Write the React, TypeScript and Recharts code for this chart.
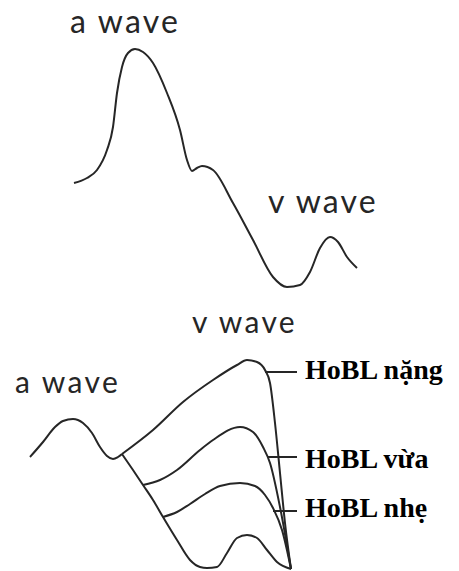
import { LineChart, Line, XAxis, YAxis, ReferenceDot } from "recharts";

const INK = "#262626";
const W = 459;
const TOP_H = 300;
const BOTTOM_H = 271;

// normal jugular venous pulse: a wave, x descent, v wave
const topTime = [74, 87, 97, 107, 113, 117, 122, 128, 135, 143, 153, 167, 180, 187, 192, 197, 202, 213, 233, 253, 273, 287, 300, 310, 320, 330, 338, 347, 357];
const topPressure = [117, 122, 130, 150, 173, 207, 233, 247, 251, 248, 237, 207, 170, 140, 129, 132, 134, 130, 97, 60, 23, 13, 15, 28, 52, 63, 58, 43, 32];

// tricuspid regurgitation: shared a wave, then one v wave per grade
const aWaveTime = [30, 43, 55, 63, 73, 83, 92, 100, 107, 113, 118, 122];
const aWavePressure = [114, 129, 144, 150, 152, 148, 138, 124, 115, 112, 114, 117];

const normalTime = [122, 133, 143, 153, 163, 177, 190, 200, 207, 217, 227, 237, 247, 257, 267, 277, 291];
const normalPressure = [117, 101, 86, 71, 54, 31, 11, 4, 3, 4, 18, 33, 36, 33, 21, 9, 2];

const severeTime = [122, 153, 183, 213, 237, 247, 257, 265, 270, 275, 280, 285, 291];
const severePressure = [117, 141, 169, 191, 206, 211, 209, 201, 188, 148, 98, 48, 2];

const moderateTime = [143, 160, 177, 200, 213, 240, 253, 263, 270, 280, 291];
const moderatePressure = [86, 91, 101, 121, 131, 144, 139, 124, 108, 64, 2];

const mildTime = [163, 177, 190, 205, 220, 240, 255, 265, 273, 282, 291];
const mildPressure = [54, 59, 67, 77, 85, 88, 85, 76, 63, 41, 2];

const gradeLabels = ["HoBL nặng", "HoBL vừa", "HoBL nhẹ"];
const leaderStart = [265, 268, 273];
const leaderEnd = 297;
const leaderLevel = [199, 114, 60];
const gradeLabelX = 305;
const gradeLabelBaseline = [192, 103, 54];

const toPoints = (xs: number[], ys: number[]) => xs.map((x, i) => ({ x, y: ys[i] }));

type TagStyle = {
  fontFamily: string;
  fontSize: number;
  fontWeight?: number;
  letterSpacing?: number;
  fill: string;
};

const waveFontTop: TagStyle = { fontFamily: "Lato, 'Open Sans', sans-serif", fontSize: 32, letterSpacing: 2.2, fill: INK };
const waveFontBottom: TagStyle = { fontFamily: "Lato, 'Open Sans', sans-serif", fontSize: 30, letterSpacing: 2.4, fill: INK };
const gradeFont: TagStyle = { fontFamily: "'Liberation Serif', 'Times New Roman', serif", fontSize: 28, fontWeight: 700, fill: "#000" };

// label content: text starts at the reference point, sitting on its baseline
function tag(text: string, style: TagStyle) {
  return (props: any) => {
    const vb = props.viewBox || {};
    const x = (vb.x ?? 0) + (vb.width ?? 0) / 2;
    const y = (vb.y ?? 0) + (vb.height ?? 0) / 2;
    return (
      <text
        x={x}
        y={y}
        textAnchor="start"
        fontFamily={style.fontFamily}
        fontSize={style.fontSize}
        fontWeight={style.fontWeight}
        letterSpacing={style.letterSpacing}
        fill={style.fill}
      >
        {text}
      </text>
    );
  };
}

const curve = (id: string, data: { x: number; y: number }[], type: "monotone" | "linear" = "monotone") => (
  <Line
    key={id}
    data={data}
    dataKey="y"
    type={type}
    stroke={INK}
    strokeWidth={2}
    dot={false}
    activeDot={false}
    isAnimationActive={false}
  />
);

const anchor = (key: string, x: number, y: number, text: string, style: TagStyle) => (
  <ReferenceDot
    key={key}
    x={x}
    y={y}
    r={1}
    fill="none"
    stroke="none"
    ifOverflow="visible"
    label={tag(text, style)}
  />
);

export default function App() {
  return (
    <div style={{ position: "absolute", left: 0, top: 0, width: W, background: "#fff" }}>
      <LineChart width={W} height={TOP_H} margin={{ top: 0, right: 0, bottom: 0, left: 0 }} style={{ display: "block" }}>
        <XAxis type="number" dataKey="x" domain={[0, W]} hide allowDuplicatedCategory={false} />
        <YAxis type="number" domain={[0, TOP_H]} hide />
        {curve("normal", toPoints(topTime, topPressure))}
        {anchor("a", 70, 267, "a wave", waveFontTop)}
        {anchor("v", 268, 87, "v wave", waveFontTop)}
      </LineChart>
      <LineChart width={W} height={BOTTOM_H} margin={{ top: 0, right: 0, bottom: 0, left: 0 }} style={{ display: "block" }}>
        <XAxis type="number" dataKey="x" domain={[0, W]} hide allowDuplicatedCategory={false} />
        <YAxis type="number" domain={[0, BOTTOM_H]} hide />
        {curve("a", toPoints(aWaveTime, aWavePressure))}
        {curve("base", toPoints(normalTime, normalPressure))}
        {curve("severe", toPoints(severeTime, severePressure))}
        {curve("moderate", toPoints(moderateTime, moderatePressure))}
        {curve("mild", toPoints(mildTime, mildPressure))}
        {gradeLabels.map((_, i) =>
          curve(
            `lead${i}`,
            [
              { x: leaderStart[i], y: leaderLevel[i] },
              { x: leaderEnd, y: leaderLevel[i] },
            ],
            "linear"
          )
        )}
        {anchor("vb", 192, 238, "v wave", waveFontBottom)}
        {anchor("ab", 15, 178, "a wave", waveFontBottom)}
        {gradeLabels.map((t, i) => anchor(`g${i}`, gradeLabelX, gradeLabelBaseline[i], t, gradeFont))}
      </LineChart>
    </div>
  );
}
